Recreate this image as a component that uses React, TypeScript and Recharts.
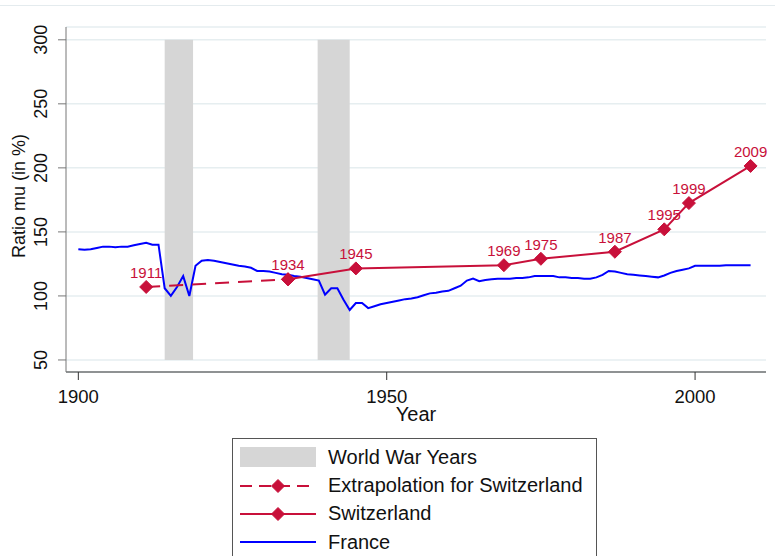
import React from "react";
import { LineChart, Line, XAxis, YAxis, CartesianGrid, ReferenceArea, Legend } from "recharts";

// France: one value per year starting in 1900
const FRANCE_FIRST_YEAR = 1900;
const FRANCE = [
  136.5, 136, 136.5, 137.5, 138.5, 138.5, 138, 138.5, 138.5, 139.5,
  140.5, 141.5, 140, 140, 106, 100, 107, 115.5, 100, 123.5,
  127.5, 128, 127.5, 126.5, 125.5, 124.5, 123.5, 123, 122, 119.5,
  119.5, 119, 118, 117, 116.5, 115.5, 115, 114, 113, 112,
  101, 106, 106, 97, 89, 94.5, 94.5, 90.5, 92, 93.5,
  94.5, 95.5, 96.5, 97.5, 98, 99, 100.5, 102, 102.5, 103.5,
  104, 106, 108, 112, 113.5, 111.5, 112.5, 113, 113.5, 113.5,
  113.5, 114, 114, 114.5, 115.5, 115.5, 115.5, 115.5, 114.5, 114.5,
  114, 114, 113.5, 113.5, 114.5, 116.5, 119.5, 119, 118, 117,
  116.5, 116, 115.5, 115, 114.5, 116, 118, 119.5, 120.5, 121.5,
  123.5, 123.5, 123.5, 123.5, 123.5, 124, 124, 124, 124, 124,
];

const SWISS_YEARS = [1934, 1945, 1969, 1975, 1987, 1995, 1999, 2009];
const SWISS = [113, 121.5, 124, 129, 134.5, 152, 172.5, 201.5];

const EXTRA_YEARS = [1911, 1934];
const EXTRA = [107, 113];

const WARS: [number, number][] = [[1914, 1918.6], [1938.8, 1944]];

const X_TICKS = [1900, 1950, 2000];
const Y_TICKS = [50, 100, 150, 200, 250, 300];

const RED = "#c8103a";
const BLUE = "#0000ff";
const GREY = "#d6d6d6";
const FONT = "'Liberation Sans', Arial, sans-serif";

const franceData = FRANCE.map((v, i) => ({ year: FRANCE_FIRST_YEAR + i, value: v }));
const swissData = SWISS_YEARS.map((y, i) => ({ year: y, value: SWISS[i] }));
const extraData = EXTRA_YEARS.map((y, i) => ({ year: y, value: EXTRA[i] }));

function Diamond(props: any) {
  const { cx, cy } = props;
  if (cx == null || cy == null) return null;
  const r = 6.5;
  return (
    <polygon
      points={`${cx},${cy - r} ${cx + r},${cy} ${cx},${cy + r} ${cx - r},${cy}`}
      fill={RED}
      stroke={RED}
    />
  );
}

const yearLabel = (data: { year: number }[], skip: number[] = []) => (p: any) => {
  if (skip.includes(p.index)) return <g key={`l-${p.index}`} />;
  return (
    <text
      key={`l-${p.index}`}
      x={p.x}
      y={p.y - 9}
      textAnchor="middle"
      fontSize={15}
      fontFamily={FONT}
      fill={RED}
    >
      {data[p.index].year}
    </text>
  );
};

const YTick = ({ y, payload }: any) => (
  <text
    x={47}
    y={y}
    transform={`rotate(-90 47 ${y})`}
    textAnchor="middle"
    fontSize={18}
    fontFamily={FONT}
    fill="#111"
  >
    {payload.value}
  </text>
);

function LegendBox() {
  const row: React.CSSProperties = { display: "flex", alignItems: "center", height: 28.4 };
  const text: React.CSSProperties = { marginLeft: 12, fontSize: 20, color: "#111" };
  return (
    <div
      style={{
        width: 365,
        height: 130,
        border: "1.5px solid #555",
        background: "#fff",
        boxSizing: "border-box",
        padding: "4px 0 0 7px",
        fontFamily: FONT,
      }}
    >
      <div style={row}>
        <svg width={76} height={22}>
          <rect x={0} y={1} width={76} height={20} fill={GREY} />
        </svg>
        <span style={text}>World War Years</span>
      </div>
      <div style={row}>
        <svg width={76} height={22}>
          <line x1={0} y1={11} x2={76} y2={11} stroke={RED} strokeWidth={2} strokeDasharray="12 7" />
          <Diamond cx={38} cy={11} />
        </svg>
        <span style={text}>Extrapolation for Switzerland</span>
      </div>
      <div style={row}>
        <svg width={76} height={22}>
          <line x1={0} y1={11} x2={76} y2={11} stroke={RED} strokeWidth={2} />
          <Diamond cx={38} cy={11} />
        </svg>
        <span style={text}>Switzerland</span>
      </div>
      <div style={row}>
        <svg width={76} height={22}>
          <line x1={0} y1={11} x2={76} y2={11} stroke={BLUE} strokeWidth={2} />
        </svg>
        <span style={text}>France</span>
      </div>
    </div>
  );
}

export default function App() {
  return (
    <div style={{ position: "absolute", left: 0, top: 0, width: 775, height: 556, background: "#fff", overflow: "hidden" }}>
      <div style={{ position: "absolute", left: 0, top: 5, width: 775, height: 1, background: "#e4ebee" }} />
      <LineChart width={775} height={556} margin={{ top: 27, right: 9, bottom: 126, left: 0 }}>
        <CartesianGrid vertical={false} stroke="#e6eef0" strokeWidth={1.5} />
        {WARS.map(([a, b]) => (
          <ReferenceArea key={a} x1={a} x2={b} y1={50} y2={300} fill={GREY} fillOpacity={1} stroke="none" />
        ))}
        <XAxis
          dataKey="year"
          type="number"
          domain={[1898, 2011.5]}
          ticks={X_TICKS}
          allowDataOverflow
          height={58}
          tickSize={8}
          tickMargin={10}
          stroke="#333"
          tick={{ fontSize: 18.5, fontFamily: FONT, fill: "#111" }}
          label={() => (
            <text x={416} y={421} textAnchor="middle" fontSize={20} fontFamily={FONT} fill="#111">
              Year
            </text>
          )}
        />
        <YAxis
          type="number"
          domain={[40.6, 310]}
          ticks={Y_TICKS}
          allowDataOverflow
          width={66}
          tickSize={8}
          stroke="#777"
          tick={<YTick />}
          label={() => (
            <text x={25} y={196} transform="rotate(-90 25 196)" textAnchor="middle" fontSize={18} fontFamily={FONT} fill="#111">
              Ratio mu (in %)
            </text>
          )}
        />
        <Line
          data={franceData}
          dataKey="value"
          stroke={BLUE}
          strokeWidth={2}
          dot={false}
          isAnimationActive={false}
        />
        <Line
          data={extraData}
          dataKey="value"
          stroke={RED}
          strokeWidth={2}
          strokeDasharray="14 9"
          dot={(p: any) => <Diamond key={`e-${p.index}`} {...p} />}
          label={yearLabel(extraData, [1])}
          isAnimationActive={false}
        />
        <Line
          data={swissData}
          dataKey="value"
          stroke={RED}
          strokeWidth={2}
          dot={(p: any) => <Diamond key={`s-${p.index}`} {...p} />}
          label={yearLabel(swissData)}
          isAnimationActive={false}
        />
        <Legend
          layout="horizontal"
          verticalAlign="middle"
          align="center"
          wrapperStyle={{ position: "absolute", left: 232, top: 438, width: 365 }}
          content={() => <LegendBox />}
        />
      </LineChart>
    </div>
  );
}
